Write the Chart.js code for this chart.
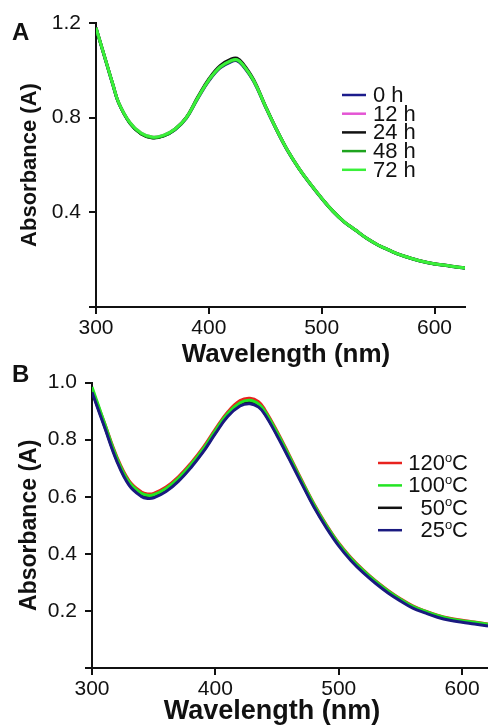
<!DOCTYPE html>
<html>
<head>
<meta charset="utf-8">
<script src="https://cdn.jsdelivr.net/npm/chart.js@4"></script>
<style>
  body { margin: 0; background: #fff; }
  #wrap { position: relative; width: 488px; height: 727px; overflow: hidden; }
  canvas { position: absolute; left: 0; }
  #chartA { top: 0; }
  #chartB { top: 362px; }
</style>
</head>
<body>
<div id="wrap">
  <canvas id="chartA" width="488" height="372"></canvas>
  <canvas id="chartB" width="488" height="365"></canvas>
</div>
<script>
// Panel A - absorbance over time
const wavelengthsA = [300,305,310,315,320,330,340,350,360,370,380,390,400,410,420,425,430,440,450,460,470,480,490,500,510,520,530,540,550,560,570,580,590,600,610,620,627];
const h0  = [1.177,1.097,1.017,0.937,0.862,0.777,0.732,0.716,0.723,0.749,0.797,0.879,0.955,1.010,1.037,1.040,1.020,0.951,0.847,0.748,0.658,0.583,0.518,0.458,0.404,0.359,0.324,0.289,0.261,0.239,0.219,0.204,0.191,0.182,0.175,0.168,0.164];
const h12 = [1.180,1.100,1.020,0.940,0.865,0.780,0.735,0.718,0.726,0.752,0.800,0.883,0.960,1.015,1.042,1.045,1.025,0.955,0.850,0.750,0.660,0.585,0.520,0.460,0.405,0.360,0.325,0.290,0.262,0.240,0.220,0.205,0.192,0.183,0.176,0.169,0.165];
const h24 = [1.180,1.100,1.020,0.940,0.864,0.777,0.731,0.714,0.723,0.751,0.801,0.886,0.964,1.020,1.048,1.051,1.030,0.958,0.851,0.750,0.660,0.585,0.520,0.460,0.405,0.360,0.325,0.290,0.262,0.240,0.220,0.205,0.192,0.183,0.176,0.169,0.165];
const h48 = [1.179,1.099,1.019,0.939,0.863,0.777,0.732,0.715,0.723,0.750,0.798,0.881,0.958,1.013,1.040,1.043,1.023,0.953,0.849,0.749,0.659,0.584,0.519,0.459,0.404,0.359,0.324,0.289,0.261,0.239,0.219,0.204,0.191,0.182,0.175,0.168,0.164];
const h72 = [1.180,1.100,1.020,0.940,0.865,0.780,0.735,0.718,0.726,0.752,0.800,0.883,0.960,1.015,1.042,1.045,1.025,0.955,0.850,0.750,0.660,0.585,0.520,0.460,0.405,0.360,0.325,0.290,0.262,0.240,0.220,0.205,0.192,0.183,0.176,0.169,0.165];
const ticksAx = [300,400,500,600];
const ticksAy = [0,0.4,0.8,1.2];
const labelsA = ["0 h","12 h","24 h","48 h","72 h"];
const colorsA = ["#1c1c8c","#e455d4","#111111","#1ea31e","#3af03a"];

// Panel B - absorbance after heating
const wavelengthsB = [300,305,310,320,330,340,345,350,360,370,380,390,400,410,420,428,435,440,450,460,470,480,490,500,510,520,530,540,550,560,570,580,590,600,610,621];
const c120 = [0.975,0.918,0.860,0.742,0.657,0.617,0.610,0.612,0.634,0.670,0.717,0.772,0.837,0.897,0.937,0.945,0.933,0.906,0.830,0.745,0.658,0.575,0.502,0.438,0.386,0.343,0.305,0.272,0.243,0.218,0.200,0.185,0.174,0.167,0.161,0.154];
const c100 = [0.985,0.922,0.860,0.738,0.652,0.612,0.605,0.607,0.629,0.665,0.712,0.767,0.832,0.892,0.929,0.938,0.925,0.900,0.825,0.741,0.655,0.572,0.499,0.436,0.384,0.341,0.303,0.270,0.241,0.216,0.199,0.184,0.173,0.166,0.160,0.153];
const c50  = [0.970,0.910,0.850,0.730,0.645,0.605,0.598,0.600,0.622,0.658,0.705,0.760,0.825,0.885,0.922,0.930,0.918,0.893,0.818,0.735,0.650,0.567,0.495,0.432,0.380,0.337,0.300,0.267,0.238,0.213,0.196,0.181,0.170,0.163,0.157,0.150];
const c25  = [0.966,0.906,0.846,0.726,0.641,0.601,0.594,0.596,0.618,0.654,0.701,0.756,0.821,0.881,0.918,0.926,0.914,0.889,0.814,0.731,0.646,0.563,0.491,0.428,0.376,0.333,0.296,0.263,0.235,0.210,0.193,0.178,0.167,0.160,0.154,0.147];
const ticksBx = [300,400,500,600];
const ticksBy = [0,0.2,0.4,0.6,0.8,1.0];
const labelsB = ["120","100","50","25"];
const colorsB = ["#e8221e","#22e422","#111111","#1a1a80"];

Chart.defaults.font.family = "'Liberation Sans', Arial, sans-serif";
Chart.defaults.color = "#111";

function series(xs, ys) {
  return xs.map((x, i) => ({ x: x, y: ys[i] }));
}

function lineSet(label, xs, ys, color, order) {
  return {
    label: label,
    data: series(xs, ys),
    borderColor: color,
    borderWidth: 3,
    pointRadius: 0,
    tension: 0.4,
    order: order
  };
}

function axisX(min, max, tickVals, boxH) {
  return {
    type: "linear",
    min: min,
    max: max,
    afterBuildTicks: (s) => { s.ticks = tickVals.map(v => ({ value: v })); },
    afterFit: (s) => { s.height = boxH; },
    grid: { drawOnChartArea: false, tickLength: 7, color: "#111", lineWidth: 2 },
    border: { color: "#111", width: 2 },
    ticks: { font: { size: 21 }, padding: 2, maxRotation: 0, color: "#111" },
    title: { display: false }
  };
}

function axisY(min, max, tickVals, titleSize, titlePad, boxW) {
  return {
    min: min,
    max: max,
    afterBuildTicks: (s) => { s.ticks = tickVals.map(v => ({ value: v })); },
    afterFit: (s) => { s.width = boxW; },
    grid: { drawOnChartArea: false, tickLength: 7, color: "#111", lineWidth: 2 },
    border: { color: "#111", width: 2 },
    ticks: {
      font: { size: 21 },
      padding: 8,
      color: "#111",
      callback: (v) => (v === 0 ? "" : v.toFixed(1))
    },
    title: { display: true, text: "Absorbance (A)", font: { size: titleSize, weight: "bold" }, padding: { top: titlePad, bottom: 0 }, color: "#111" }
  };
}

// panel letter, x-axis title and the legend box
function panelDecor(opts) {
  return {
    id: "decor" + opts.letter,
    afterDraw(chart) {
      const ctx = chart.ctx;
      ctx.save();
      ctx.fillStyle = "#111";
      ctx.textBaseline = "middle";
      ctx.textAlign = "left";
      ctx.font = "bold 24px 'Liberation Sans', Arial, sans-serif";
      ctx.fillText(opts.letter, 12, opts.letterY);

      ctx.textAlign = "center";
      ctx.font = "bold " + opts.titleSize + "px 'Liberation Sans', Arial, sans-serif";
      ctx.fillText("Wavelength (nm)", opts.titleX, opts.titleY);

      const size = opts.size;
      opts.rows.forEach((r) => {
        ctx.strokeStyle = r.color;
        ctx.lineWidth = 2.5;
        ctx.beginPath();
        ctx.moveTo(opts.lineX0, r.y);
        ctx.lineTo(opts.lineX1, r.y);
        ctx.stroke();
        ctx.fillStyle = "#111";
        const big = size + "px 'Liberation Sans', Arial, sans-serif";
        if (opts.superO) {
          const small = Math.round(size * 0.6) + "px 'Liberation Sans', Arial, sans-serif";
          ctx.font = big;
          const wNum = ctx.measureText(r.text).width;
          const wC = ctx.measureText("C").width;
          ctx.font = small;
          const wO = ctx.measureText("o").width;
          const x = opts.textX - (wNum + wO + wC);
          ctx.textAlign = "left";
          ctx.font = big;
          ctx.fillText(r.text, x, r.y + 1);
          ctx.font = small;
          ctx.fillText("o", x + wNum, r.y - 5);
          ctx.font = big;
          ctx.fillText("C", x + wNum + wO, r.y + 1);
        } else {
          ctx.font = big;
          ctx.textAlign = "left";
          ctx.fillText(r.text, opts.textX, r.y + 1);
        }
      });
      ctx.restore();
    }
  };
}

const rowsA = labelsA.map((t, i) => ({ text: t, color: colorsA[i], y: 95 + i * 18.7 }));
const rowsB = labelsB.map((t, i) => ({ text: t, color: colorsB[i], y: 463 - 362 + i * 22.4 }));

new Chart(document.getElementById("chartA"), {
  type: "line",
  data: {
    datasets: [
      lineSet(labelsA[0], wavelengthsA, h0, colorsA[0], 4),
      lineSet(labelsA[1], wavelengthsA, h12, colorsA[1], 3),
      lineSet(labelsA[2], wavelengthsA, h24, colorsA[2], 2),
      lineSet(labelsA[3], wavelengthsA, h48, colorsA[3], 1),
      lineSet(labelsA[4], wavelengthsA, h72, colorsA[4], 0)
    ]
  },
  options: {
    responsive: false,
    animation: false,
    layout: { padding: { left: 0, top: 23, right: 23, bottom: 0 } },
    plugins: { legend: { display: false }, tooltip: { enabled: false } },
    scales: {
      x: axisX(300, 627, ticksAx, 65),
      y: axisY(0, 1.2, ticksAy, 22, 17, 96)
    }
  },
  plugins: [panelDecor({
    letter: "A", letterY: 33, titleSize: 26, titleX: 286, titleY: 355,
    rows: rowsA, lineX0: 342, lineX1: 366, textX: 373, size: 22, superO: false
  })]
});

new Chart(document.getElementById("chartB"), {
  type: "line",
  data: {
    datasets: [
      lineSet(labelsB[0], wavelengthsB, c120, colorsB[0], 3),
      lineSet(labelsB[1], wavelengthsB, c100, colorsB[1], 1),
      lineSet(labelsB[2], wavelengthsB, c50, colorsB[2], 2),
      lineSet(labelsB[3], wavelengthsB, c25, colorsB[3], 0)
    ]
  },
  options: {
    responsive: false,
    animation: false,
    layout: { padding: { left: 0, top: 20, right: 0, bottom: 0 } },
    plugins: { legend: { display: false }, tooltip: { enabled: false } },
    scales: {
      x: axisX(300, 621, ticksBx, 59),
      y: axisY(0, 1.0, ticksBy, 23, 16, 92)
    }
  },
  plugins: [panelDecor({
    letter: "B", letterY: 13, titleSize: 27, titleX: 272, titleY: 712 - 362,
    rows: rowsB, lineX0: 378, lineX1: 402, textX: 468, size: 22, superO: true
  })]
});
</script>
</body>
</html>
